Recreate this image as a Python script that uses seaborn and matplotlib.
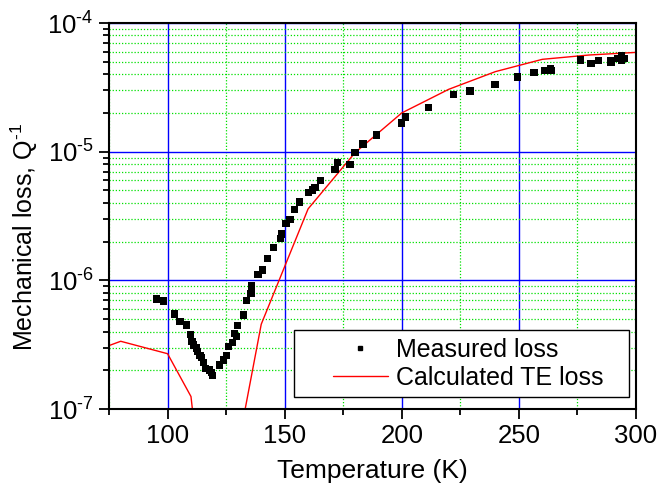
import numpy as np
import pandas as pd
import matplotlib
matplotlib.use("Agg")
import matplotlib.pyplot as plt
import matplotlib.ticker as mticker
import matplotlib.transforms as mtransforms
from matplotlib.lines import Line2D
from matplotlib.legend_handler import HandlerLine2D
import seaborn as sns

# ---- data ----
meas_T = [95.2, 98.4, 103.1, 105.3, 108.2, 109.7, 110.5, 111.2, 112.3, 112.9,
          113.8, 114.5, 115.3, 116.1, 117.8, 118.8, 119.1, 122.3, 123.8, 125.1,
          126.1, 127.6, 128.6, 129.5, 130.0, 132.3, 133.6, 135.6, 135.8, 138.6,
          140.5, 142.6, 145.2, 148.3, 148.7, 150.6, 152.3, 154.1, 156.3, 160.1,
          161.8, 163.0, 165.4, 171.5, 172.5, 177.9, 180.0, 183.5, 189.2, 199.9,
          201.7, 211.5, 222.1, 229.1, 239.8, 249.5, 256.5, 261.2, 263.4, 263.7,
          276.2, 280.8, 283.9, 289.0, 289.4, 292.0, 293.9, 293.9, 295.0]
meas_Q = [7.17e-7, 6.9e-7, 5.48e-7, 4.78e-7, 4.5e-7, 3.81e-7, 3.34e-7, 3.15e-7, 2.97e-7, 2.79e-7,
          2.6e-7, 2.51e-7, 2.29e-7, 2.06e-7, 2.01e-7, 1.92e-7, 1.83e-7, 2.2e-7, 2.41e-7, 2.6e-7,
          3.05e-7, 3.3e-7, 3.88e-7, 3.66e-7, 4.45e-7, 5.38e-7, 6.95e-7, 7.94e-7, 9.04e-7, 1.11e-6,
          1.2e-6, 1.47e-6, 1.79e-6, 2.12e-6, 2.29e-6, 2.78e-6, 2.98e-6, 3.56e-6, 4.07e-6, 4.81e-6,
          5.04e-6, 5.28e-6, 6.0e-6, 7.3e-6, 8.27e-6, 7.94e-6, 9.82e-6, 1.15e-5, 1.35e-5, 1.67e-5,
          1.86e-5, 2.21e-5, 2.77e-5, 2.96e-5, 3.34e-5, 3.8e-5, 4.11e-5, 4.29e-5, 4.45e-5, 4.27e-5,
          5.16e-5, 4.87e-5, 5.1e-5, 5.07e-5, 4.96e-5, 5.32e-5, 5.57e-5, 5.16e-5, 5.32e-5]

te_T = [70, 80, 100, 110, 120, 130, 140, 160, 180, 200, 220, 240, 260, 280, 300]
te_Q = [2.88e-7, 3.36e-7, 2.69e-7, 1.25e-7, 3.0e-9, 5.0e-8, 4.56e-7, 3.59e-6,
        9.8e-6, 2.0e-5, 3.05e-5, 4.19e-5, 5.22e-5, 5.64e-5, 5.91e-5]

x_ticks = [100, 150, 200, 250, 300]
labels = ["Measured loss", "Calculated TE loss"]

meas = pd.DataFrame({"T": meas_T, "Q": meas_Q})
te = pd.DataFrame({"T": te_T, "Q": te_Q})

sns.set_style("white")
plt.rcParams["font.family"] = ["Liberation Sans", "DejaVu Sans"]
plt.rcParams["mathtext.fontset"] = "custom"
plt.rcParams["mathtext.rm"] = "Liberation Sans"
plt.rcParams["mathtext.it"] = "Liberation Sans:italic"
plt.rcParams["mathtext.bf"] = "Liberation Sans:bold"
plt.rcParams["text.color"] = "black"
plt.rcParams["axes.labelcolor"] = "black"
plt.rcParams["xtick.color"] = "black"
plt.rcParams["ytick.color"] = "black"

fig = plt.figure(figsize=(6.59, 4.91), dpi=100)
ax = fig.add_axes([109 / 659, 1 - 409 / 491, 527 / 659, 386 / 491])

sns.lineplot(data=te, x="T", y="Q", ax=ax, color="red", lw=1.0,
             estimator=None, sort=False, zorder=3)
sns.scatterplot(data=meas, x="T", y="Q", ax=ax, color="black", marker="s",
                s=28, edgecolor="none", linewidth=0, zorder=4)

ax.set_yscale("log")
ax.set_xlim(75, 300)
ax.set_ylim(1e-7, 1e-4)


def pow_fmt(v, pos):
    n = int(round(np.log10(v)))
    sign = "-" if n < 0 else ""
    return "$10^{\\text{%s%d}}$" % (sign, abs(n))


ax.xaxis.set_major_locator(mticker.FixedLocator(x_ticks))
ax.xaxis.set_minor_locator(mticker.MultipleLocator(25))
ax.yaxis.set_major_locator(mticker.LogLocator(base=10))
ax.yaxis.set_minor_locator(mticker.LogLocator(base=10, subs=np.arange(2, 10)))
ax.yaxis.set_minor_formatter(mticker.NullFormatter())
ax.yaxis.set_major_formatter(mticker.FuncFormatter(pow_fmt))

ax.set_axisbelow(True)
ax.grid(which="major", color="#0000ff", lw=1.0, ls="-")
ax.grid(which="minor", color="#00e000", lw=0.9, ls=(0, (1, 1.5)))

for s in ax.spines.values():
    s.set_visible(True)
    s.set_color("black")
    s.set_linewidth(1.5)
    s.set_zorder(5)

ax.tick_params(axis="both", which="major", direction="out", length=7, width=1.3,
               labelsize=18.5, pad=4, colors="black", left=True, bottom=True,
               top=False, right=False)
ax.tick_params(axis="both", which="minor", direction="out", length=4, width=1.3,
               left=True, bottom=True, top=False, right=False)

ax.set_xlabel("Temperature (K)", fontsize=19, labelpad=8)
ax.set_ylabel("Mechanical loss, Q$^{\\text{-1}}$", fontsize=18)
ax.yaxis.set_label_coords(-0.13, 0.447)


class ShiftHandler(HandlerLine2D):
    def __init__(self, visible_frac=0.6, **kw):
        super().__init__(**kw)
        self.visible_frac = visible_frac

    def create_artists(self, legend, orig_handle, xdescent, ydescent, width,
                       height, fontsize, trans):
        vis = width * self.visible_frac
        shift = width - vis
        t = mtransforms.Affine2D().translate(shift, 0) + trans
        return super().create_artists(legend, orig_handle, xdescent, ydescent,
                                      vis, height, fontsize, t)


handles = [Line2D([], [], marker="s", ls="none", color="black", ms=3.5),
           Line2D([], [], color="red", lw=1.0)]
leg = ax.legend(handles, labels, loc="lower left", mode="expand",
                bbox_to_anchor=(0.351, 0.031, 0.636, 0.1), borderaxespad=0,
                fontsize=18, frameon=True, fancybox=False, framealpha=1,
                edgecolor="black", handlelength=3.46, handletextpad=0.32,
                borderpad=0.3, labelspacing=0.15,
                handler_map={Line2D: ShiftHandler(visible_frac=0.636)})
leg.get_frame().set_linewidth(1.0)
leg.set_zorder(6)

fig.savefig("out.png", dpi=100)
